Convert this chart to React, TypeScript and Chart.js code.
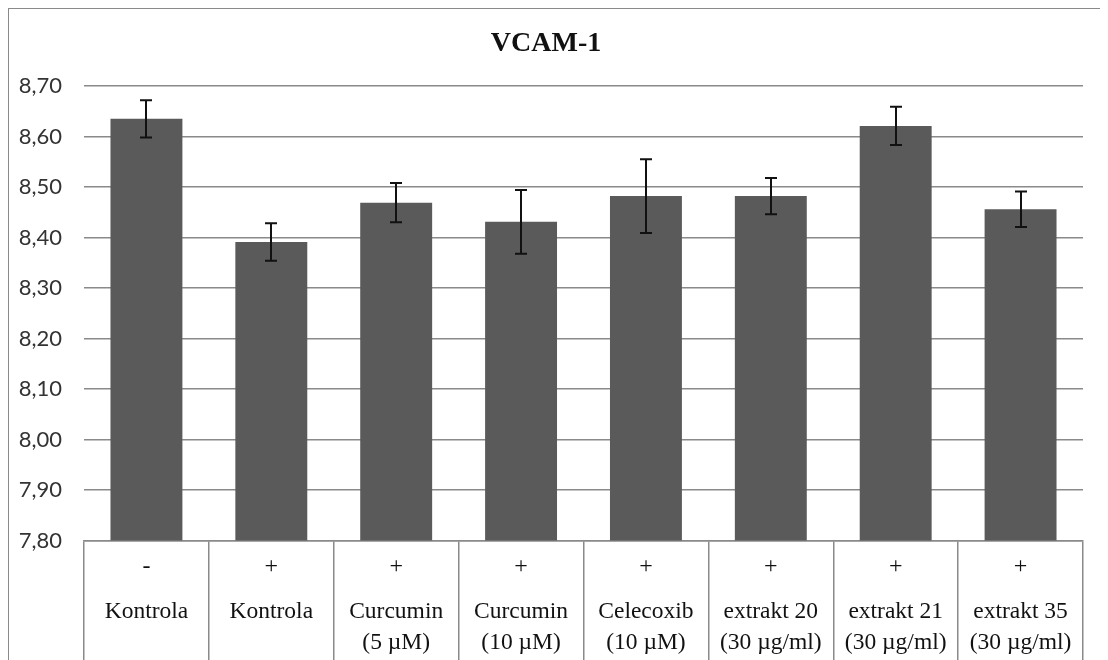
import React, { useEffect, useRef } from "react";
import { Chart, registerables } from "chart.js";

Chart.register(...registerables);

const signs = ["-", "+", "+", "+", "+", "+", "+", "+"];
const names = [
  ["Kontrola"],
  ["Kontrola"],
  ["Curcumin", "(5 µM)"],
  ["Curcumin", "(10 µM)"],
  ["Celecoxib", "(10 µM)"],
  ["extrakt 20", "(30 µg/ml)"],
  ["extrakt 21", "(30 µg/ml)"],
  ["extrakt 35", "(30 µg/ml)"],
];
const values = [8.635, 8.391, 8.469, 8.431, 8.482, 8.482, 8.621, 8.456];
const errors = [0.037, 0.037, 0.039, 0.063, 0.073, 0.036, 0.038, 0.035];
const yMin = 7.8;
const yMax = 8.7;
const yStep = 0.1;

const errorBarPlugin = {
  id: "errorBars",
  afterDatasetsDraw(chart: any) {
    const ctx = chart.ctx;
    const meta = chart.getDatasetMeta(0);
    const y = chart.scales.y;
    ctx.save();
    ctx.strokeStyle = "#111";
    ctx.lineWidth = 2;
    meta.data.forEach((bar: any, i: number) => {
      const x = Math.round(bar.x);
      const top = y.getPixelForValue(values[i] + errors[i]);
      const bot = y.getPixelForValue(values[i] - errors[i]);
      ctx.beginPath();
      ctx.moveTo(x, top);
      ctx.lineTo(x, bot);
      ctx.moveTo(x - 6, top);
      ctx.lineTo(x + 6, top);
      ctx.moveTo(x - 6, bot);
      ctx.lineTo(x + 6, bot);
      ctx.stroke();
    });
    ctx.restore();
  },
};

export default function App() {
  const ref = useRef<HTMLCanvasElement>(null);
  useEffect(() => {
    if (!ref.current) return;
    const serif = "'Liberation Serif', 'Times New Roman', serif";
    const chart = new Chart(ref.current, {
      type: "bar",
      data: {
        labels: signs,
        datasets: [
          {
            data: values,
            backgroundColor: "#5a5a5a",
            borderWidth: 0,
            categoryPercentage: 1,
            barPercentage: 0.576,
          },
        ],
      },
      options: {
        responsive: false,
        animation: false,
        events: [],
        layout: { padding: { right: 24, bottom: 0, left: 0, top: 0 } },
        plugins: {
          legend: { display: false },
          tooltip: { enabled: false },
          title: {
            display: true,
            text: "VCAM-1",
            color: "#111",
            font: { family: serif, size: 28, weight: "bold" },
            padding: { top: 18, bottom: 25.4 },
          },
        },
        scales: {
          y: {
            min: yMin,
            max: yMax,
            ticks: {
              stepSize: yStep,
              padding: 22,
              color: "#333",
              font: { family: "Lato, 'Liberation Sans', sans-serif", size: 22 },
              callback: (v: any) => Number(v).toFixed(2).replace(".", ","),
            },
            grid: { color: "#8a8a8a", lineWidth: 1.5, drawTicks: false },
            border: { display: false },
            afterFit: (s: any) => {
              s.width = 75;
            },
          },
          x: {
            weight: 0,
            offset: true,
            grid: {
              offset: true,
              drawOnChartArea: false,
              tickLength: 130,
              color: "#8a8a8a",
              lineWidth: 1.5,
            },
            border: { display: true, color: "#8a8a8a", width: 1.5 },
            ticks: {
              padding: -118,
              color: "#111",
              font: { family: serif, size: 24, lineHeight: 1.2 },
              maxRotation: 0,
              autoSkip: false,
            },
            afterFit: (s: any) => {
              s.height = 42;
            },
          },
          x2: {
            type: "category",
            position: "bottom",
            weight: 1,
            offset: true,
            labels: names,
            grid: { display: false, drawTicks: false },
            border: { display: false },
            ticks: {
              padding: 14,
              color: "#111",
              font: { family: serif, size: 23.5, lineHeight: "31px" },
              maxRotation: 0,
              autoSkip: false,
            },
            afterFit: (s: any) => {
              s.height = 116.5;
            },
          },
        },
      },
      plugins: [errorBarPlugin],
    } as any);
    return () => chart.destroy();
  }, []);

  return (
    <div style={{ height: 652, overflow: "hidden" }}>
      <div style={{ width: 1098, height: 700, border: "1px solid #8a8a8a", background: "#fff" }}>
        <canvas ref={ref} width={1098} height={690} style={{ display: "block" }} />
      </div>
    </div>
  );
}
